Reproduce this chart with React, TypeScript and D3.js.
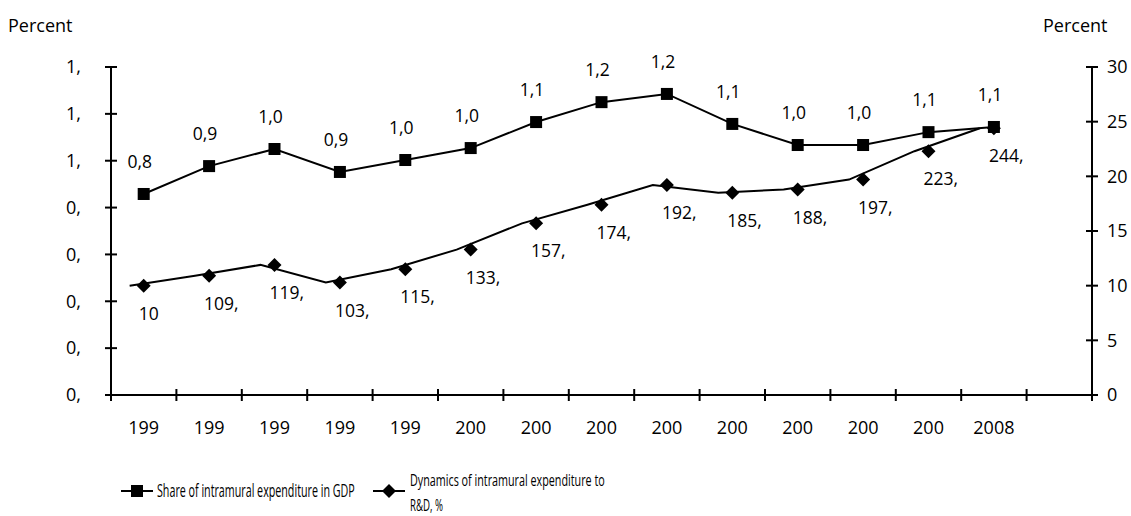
import React, { useLayoutEffect, useRef, useState } from "react";
import * as d3 from "d3";

// ---- data ----
const categoryLabels = ["199", "199", "199", "199", "199", "200", "200", "200", "200", "200", "200", "200", "200", "2008", ""];
const shareGDP = [0.858, 0.977, 1.05, 0.952, 1.003, 1.054, 1.165, 1.25, 1.285, 1.157, 1.067, 1.067, 1.122, 1.144];
const shareLabels = ["0,8", "0,9", "1,0", "0,9", "1,0", "1,0", "1,1", "1,2", "1,2", "1,1", "1,0", "1,0", "1,1", "1,1"];
const dynamics = [10.0, 10.9, 11.9, 10.3, 11.5, 13.3, 15.7, 17.4, 19.2, 18.5, 18.8, 19.7, 22.3, 24.4];
const dynamicsLabels = ["10", "109,", "119,", "103,", "115,", "133,", "157,", "174,", "192,", "185,", "188,", "197,", "223,", "244,"];
const leftTicks = [0, 0.2, 0.4, 0.6, 0.8, 1.0, 1.2, 1.4];
const rightTicks = [0, 5, 10, 15, 20, 25, 30];
const legendShare = "Share of intramural expenditure in GDP";
const legendDyn1 = "Dynamics of intramural expenditure to";
const legendDyn2 = "R&D, %";

const W = 1131, H = 516;
const plot = { left: 111, right: 1092, top: 67, bottom: 395 };
const font = "'Open Sans', sans-serif";
const lineShift = -0.215; // diamond line drawn shifted (fraction of band)

function Condensed({ x, y, width, size, children }: { x: number; y: number; width: number; size: number; children: string }) {
  const ref = useRef<SVGTextElement>(null);
  const [sx, setSx] = useState(1);
  useLayoutEffect(() => {
    if (ref.current) {
      const n = ref.current.getComputedTextLength();
      if (n > 0) setSx(width / n);
    }
  }, [width, children]);
  return (
    <text ref={ref} transform={`translate(${x},${y}) scale(${sx},1)`} dy="0.35em" fontSize={size}>
      {children}
    </text>
  );
}

export default function App() {
  const idx = categoryLabels.map((_, i) => i);
  const x = d3.scaleBand<number>().domain(idx).range([plot.left, plot.right]).padding(0);
  const bw = x.bandwidth();
  const cx = (i: number) => (x(i) as number) + bw / 2;
  const yL = d3.scaleLinear().domain([0, 1.4]).range([plot.bottom, plot.top]);
  const yR = d3.scaleLinear().domain([0, 30]).range([plot.bottom, plot.top]);

  const shareLine = d3.line<number>().x((_, i) => cx(i)).y((d) => yL(d))(shareGDP) || "";
  const dynLine = d3.line<number>().x((_, i) => cx(i) + lineShift * bw).y((d) => yR(d))(dynamics) || "";

  const leftFmt = (v: number) => `${Math.floor(v + 1e-9)},`;
  const sq = 12;
  const dia = 7;
  const diamond = (px: number, py: number, r: number) => `M${px},${py - r}L${px + r},${py}L${px},${py + r}L${px - r},${py}Z`;

  const bounds = d3.range(categoryLabels.length + 1).map((i) => plot.left + i * bw);

  return (
    <svg width={W} height={H} style={{ position: "absolute", left: 0, top: 0, background: "#fff" }} fontFamily={font}>
      <rect width={W} height={H} fill="#fff" />
      {/* titles */}
      <text x={8} y={26} dy="0.35em" fontSize={18}>Percent</text>
      <text x={1043} y={26} dy="0.35em" fontSize={18}>Percent</text>

      {/* left axis */}
      <line x1={plot.left} x2={plot.left} y1={plot.top} y2={plot.bottom} stroke="#000" strokeWidth={2} />
      {leftTicks.map((t, i) => (
        <g key={"l" + i}>
          <line x1={plot.left - 6} x2={plot.left + 6} y1={yL(t)} y2={yL(t)} stroke="#000" strokeWidth={2} />
          <text x={81} y={yL(t)} dy="0.35em" textAnchor="end" fontSize={18}>{leftFmt(t)}</text>
        </g>
      ))}
      {/* right axis */}
      <line x1={plot.right} x2={plot.right} y1={plot.top} y2={plot.bottom} stroke="#000" strokeWidth={2} />
      {rightTicks.map((t, i) => (
        <g key={"r" + i}>
          <line x1={plot.right - 6} x2={plot.right + 6} y1={yR(t)} y2={yR(t)} stroke="#000" strokeWidth={2} />
          <text x={1107} y={yR(t)} dy="0.35em" textAnchor="start" fontSize={18}>{t}</text>
        </g>
      ))}
      {/* bottom axis */}
      <line x1={plot.left - 6} x2={plot.right} y1={plot.bottom} y2={plot.bottom} stroke="#000" strokeWidth={2} />
      {bounds.map((b, i) => (
        <line key={"b" + i} x1={b} x2={b} y1={plot.bottom - 6} y2={plot.bottom + 6} stroke="#000" strokeWidth={2} />
      ))}
      {categoryLabels.map((c, i) => (
        <text key={"c" + i} x={cx(i)} y={428} dy="0.35em" textAnchor="middle" fontSize={18}>{c}</text>
      ))}

      {/* share series */}
      <path d={shareLine} fill="none" stroke="#000" strokeWidth={2} />
      {shareGDP.map((v, i) => (
        <rect key={"s" + i} x={cx(i) - sq / 2} y={yL(v) - sq / 2} width={sq} height={sq} fill="#000" />
      ))}
      {shareLabels.map((t, i) => (
        <text key={"sl" + i} x={cx(i) - 4} y={yL(shareGDP[i]) - 32} dy="0.35em" textAnchor="middle" fontSize={17.5}>{t}</text>
      ))}

      {/* dynamics series */}
      <path d={dynLine} fill="none" stroke="#000" strokeWidth={2} />
      {dynamics.map((v, i) => (
        <path key={"d" + i} d={diamond(cx(i), yR(v), dia)} fill="#000" />
      ))}
      {dynamicsLabels.map((t, i) => (
        <text key={"dl" + i} x={cx(i) - 5} y={yR(dynamics[i]) + 28} dy="0.35em" textAnchor="start" fontSize={17.5}>{t}</text>
      ))}

      {/* legend */}
      <line x1={121} x2={153} y1={491} y2={491} stroke="#000" strokeWidth={2} />
      <rect x={137 - sq / 2} y={491 - sq / 2} width={sq} height={sq} fill="#000" />
      <Condensed x={157} y={491} width={198} size={18}>{legendShare}</Condensed>
      <line x1={373} x2={405} y1={491} y2={491} stroke="#000" strokeWidth={2} />
      <path d={diamond(389, 491, dia)} fill="#000" />
      <Condensed x={410} y={480} width={195} size={16.5}>{legendDyn1}</Condensed>
      <Condensed x={410} y={505} width={33} size={16.5}>{legendDyn2}</Condensed>
    </svg>
  );
}
